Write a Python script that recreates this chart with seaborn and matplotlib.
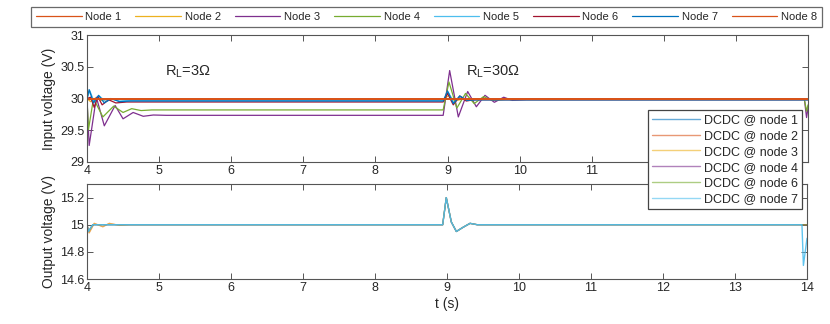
import matplotlib
matplotlib.use("Agg")
import matplotlib.pyplot as plt
from matplotlib.lines import Line2D
import seaborn as sns

# ---- colours (MATLAB-ish palette) ----
c_blue = '#0072BD'
c_orange = '#D95319'
c_yellow = '#EDB120'
c_purple = '#7E2F8E'
c_green = '#77AC30'
c_lblue = '#4DBEEE'
c_dred = '#A2142F'

node_labels = ['Node 1', 'Node 2', 'Node 3', 'Node 4', 'Node 5', 'Node 6', 'Node 7', 'Node 8']
node_colors = [c_orange, c_yellow, c_purple, c_green, c_lblue, c_dred, c_blue, c_orange]

# ---- input voltage per node (t in s, V) ----
t_in_1 = [4.0, 14.0]
v_in_1 = [30.0, 30.0]
t_in_2 = [4.0, 4.05, 4.12, 4.2, 4.3, 8.94, 9.02, 9.1, 9.2, 14.0]
v_in_2 = [30.0, 29.95, 30.01, 29.97, 29.985, 29.985, 30.05, 29.96, 29.99, 29.99]
t_in_3 = [4.0, 4.03, 4.13, 4.24, 4.39, 4.5, 4.64, 4.78, 4.92, 5.1, 8.94, 9.03, 9.15,
          9.28, 9.4, 9.52, 9.65, 9.78, 9.9, 10.1, 13.95, 13.98, 14.0]
v_in_3 = [29.98, 29.26, 30.02, 29.57, 29.89, 29.68, 29.78, 29.72, 29.74, 29.735, 29.735, 30.44, 29.71,
          30.11, 29.87, 30.05, 29.94, 30.02, 29.97, 29.985, 29.985, 29.7, 29.85]
t_in_4 = [4.0, 4.02, 4.09, 4.22, 4.37, 4.5, 4.62, 4.75, 4.9, 8.94, 9.02, 9.13, 9.25, 9.37,
          9.5, 9.62, 9.8, 13.95, 13.98, 14.0]
v_in_4 = [30.0, 29.51, 30.0, 29.71, 29.88, 29.78, 29.84, 29.81, 29.82, 29.82, 30.26, 29.85, 30.08, 29.92,
          30.03, 29.97, 29.985, 29.985, 29.8, 29.9]
t_in_5 = [4.0, 4.04, 4.1, 4.17, 4.26, 4.35, 4.45, 4.6, 8.94, 9.01, 9.09, 9.18, 9.28, 9.4, 14.0]
v_in_5 = [30.0, 30.12, 29.94, 30.04, 29.95, 29.99, 29.96, 29.97, 29.97, 30.1, 29.93, 30.03, 29.97, 29.98, 29.98]
t_in_6 = [4.0, 4.05, 4.1, 4.15, 4.21, 4.3, 4.4, 4.55, 8.94, 9.0, 9.08, 9.17, 9.26, 9.36, 14.0]
v_in_6 = [30.0, 30.02, 29.86, 30.03, 29.9, 29.98, 29.93, 29.945, 29.945, 30.08, 29.9, 30.04, 29.96, 29.98, 29.98]
t_in_7 = [4.0, 4.03, 4.09, 4.16, 4.24, 4.33, 4.45, 4.6, 8.94, 9.0, 9.08, 9.17, 9.27, 9.4, 14.0]
v_in_7 = [30.0, 30.14, 29.93, 30.05, 29.93, 30.0, 29.95, 29.96, 29.96, 30.12, 29.92, 30.04, 29.97, 29.98, 29.98]
t_in_8 = [4.0, 14.0]
v_in_8 = [30.0, 30.0]

# ---- DCDC output voltage ----
dcdc_labels = ['DCDC @ node 1', 'DCDC @ node 2', 'DCDC @ node 3',
               'DCDC @ node 4', 'DCDC @ node 6', 'DCDC @ node 7']
dcdc_colors = [c_blue, c_orange, c_yellow, c_purple, c_green, c_lblue]

t_out_a = [4.0, 4.02, 4.08, 4.2, 8.94, 8.99, 9.06, 9.13, 9.22, 9.32, 9.42, 14.0]
v_out_a = [15.0, 14.95, 15.0, 15.0, 15.0, 15.2, 15.02, 14.95, 14.98, 15.01, 15.0, 15.0]
t_out_b = [4.0, 4.03, 4.1, 4.22, 4.31, 4.45, 4.6, 8.94, 8.99, 9.06, 9.13, 9.22, 9.32, 9.42, 14.0]
v_out_b = [15.0, 14.94, 15.01, 14.985, 15.01, 14.995, 15.0, 15.0, 15.2, 15.02, 14.95, 14.98, 15.01, 15.0, 15.0]
t_out_7 = [4.0, 4.02, 4.08, 4.2, 8.94, 8.99, 9.06, 9.13, 9.22, 9.32, 9.42, 13.93, 13.95, 14.0]
v_out_7 = [15.0, 14.95, 15.0, 15.0, 15.0, 15.2, 15.02, 14.95, 14.98, 15.01, 15.0, 15.0, 14.7, 14.9]

x_ticks = [4, 5, 6, 7, 8, 9, 10, 11, 12, 13, 14]
in_ticks = [29, 29.5, 30, 30.5, 31]
out_ticks = [14.6, 14.8, 15, 15.2]

sns.set_style('ticks')
plt.rcParams['font.family'] = ['Liberation Sans', 'DejaVu Sans']
plt.rcParams['mathtext.fontset'] = 'custom'
plt.rcParams['mathtext.rm'] = 'Liberation Sans'
txt = '#262626'
spine = '#555555'

W, H = 830, 324
fig = plt.figure(figsize=(W / 100, H / 100), dpi=100)
ax_in = fig.add_axes([87 / W, 1 - 162 / H, (808 - 87) / W, (162 - 35) / H])
ax_out = fig.add_axes([87 / W, 1 - 279 / H, (807 - 87) / W, (279 - 184) / H])

in_series = [(t_in_2, v_in_2, 1), (t_in_3, v_in_3, 2), (t_in_4, v_in_4, 3), (t_in_5, v_in_5, 4),
             (t_in_6, v_in_6, 5), (t_in_7, v_in_7, 6), (t_in_1, v_in_1, 0), (t_in_8, v_in_8, 7)]
for t, v, i in in_series:
    lw = 1.3 if node_colors[i] == c_orange else 0.9
    sns.lineplot(x=t, y=v, ax=ax_in, color=node_colors[i], lw=lw)

out_series = [(t_out_a, v_out_a), (t_out_b, v_out_b), (t_out_b, v_out_b),
              (t_out_a, v_out_a), (t_out_a, v_out_a), (t_out_7, v_out_7)]
for (t, v), c in zip(out_series, dcdc_colors):
    top = c == c_lblue
    sns.lineplot(x=t, y=v, ax=ax_out, color=c, lw=1.0 if top else 0.9, alpha=0.9 if top else 0.55)

for ax in (ax_in, ax_out):
    ax.set_xlim(4, 14)
    ax.set_xticks(x_ticks)
    ax.tick_params(direction='in', top=True, right=True, length=4, width=0.7,
                   colors=spine, labelcolor=txt, labelsize=9, pad=2)
    for s in ax.spines.values():
        s.set_color(spine)
        s.set_linewidth(0.8)

ax_in.set_ylim(29, 31)
ax_in.set_yticks(in_ticks)
ax_in.set_yticklabels(['29', '29.5', '30', '30.5', '31'])
# 12-14 sit under the DCDC legend in the original
ax_in.set_xticklabels([str(x) if x < 12 else '' for x in x_ticks])
ax_in.set_ylabel('Input voltage (V)', fontsize=10, color=txt, labelpad=3)

ax_out.set_ylim(14.6, 15.3)
ax_out.set_yticks(out_ticks)
ax_out.set_yticklabels(['14.6', '14.8', '15', '15.2'])
ax_out.set_ylabel('Output voltage (V)', fontsize=10, color=txt, labelpad=3)
ax_out.set_xlabel('t (s)', fontsize=10, color=txt, labelpad=2)

ax_in.text(5.08, 30.43, r'R$_\mathregular{L}$=3Ω', fontsize=10.5, color=txt, va='center')
ax_in.text(9.25, 30.43, r'R$_\mathregular{L}$=30Ω', fontsize=10.5, color=txt, va='center')

# node legend across the top
node_handles = [Line2D([], [], color=c, lw=0.9) for c in node_colors]
leg1 = fig.legend(node_handles, node_labels, loc='upper left', bbox_to_anchor=(31 / W, 1 - 7 / H),
                  ncol=8, fontsize=8, handlelength=4.1, handletextpad=0.35, columnspacing=1.25,
                  borderpad=0.45, borderaxespad=0, frameon=True, fancybox=False)
leg1.get_frame().set_edgecolor('#444444')
leg1.get_frame().set_linewidth(0.9)
for tx in leg1.get_texts():
    tx.set_color(txt)

# DCDC legend overlapping both panels
dcdc_handles = [Line2D([], [], color=c, lw=1.0, alpha=0.6) for c in dcdc_colors]
leg2 = fig.legend(dcdc_handles, dcdc_labels, loc='upper left', bbox_to_anchor=(648 / W, 1 - 110 / H),
                  fontsize=9, handlelength=3.8, handletextpad=0.3, labelspacing=0.3,
                  borderpad=0.35, borderaxespad=0, frameon=True, fancybox=False, framealpha=1)
leg2.get_frame().set_edgecolor('#444444')
leg2.get_frame().set_linewidth(0.9)
for tx in leg2.get_texts():
    tx.set_color(txt)

fig.savefig('out.png', dpi=100)
